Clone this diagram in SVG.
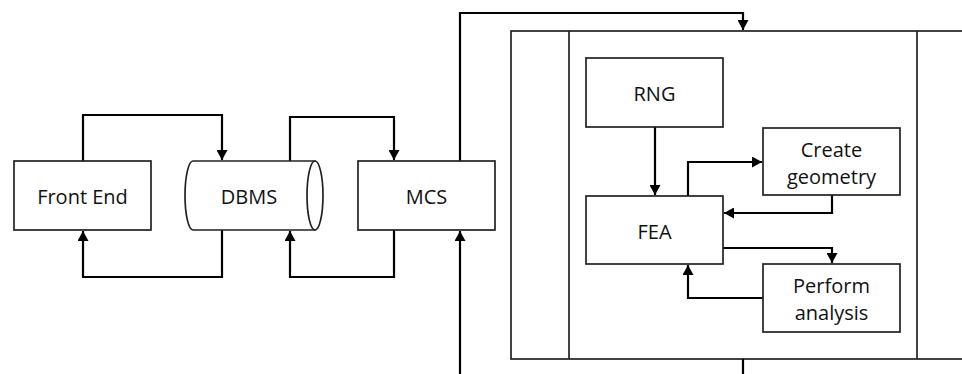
<svg xmlns="http://www.w3.org/2000/svg" width="962" height="374" viewBox="0 0 962 374">
  <style>
    .box { fill: #fff; stroke: #222; stroke-width: 1.7; }
    .frame { fill: none; stroke: #222; stroke-width: 1.7; }
    .wire { fill: none; stroke: #000; stroke-width: 2.2; }
    .lbl { font-family: "Open Sans", "Noto Sans", sans-serif; font-size: 20px; fill: #111; text-anchor: middle; dominant-baseline: central; }
  </style>
  <defs>
    <marker id="ah" viewBox="0 0 10 11" refX="10" refY="5.5" markerWidth="10" markerHeight="11" markerUnits="userSpaceOnUse" orient="auto">
      <path d="M0,0 L10,5.5 L0,11 z" fill="#000"/>
    </marker>
  </defs>

  <rect width="962" height="374" fill="#fff"/>

  <!-- outer process frame with its two divider columns -->
  <g id="frame">
    <rect class="frame" x="511" y="31" width="470" height="328"/>
    <line class="frame" x1="569" y1="31" x2="569" y2="359"/>
    <line class="frame" x1="917" y1="31" x2="917" y2="359"/>
  </g>

  <g id="connectors">
    <path class="wire" d="M83,161 V115 H222 V160" marker-end="url(#ah)"/>
    <path class="wire" d="M222,230 V277 H83 V231" marker-end="url(#ah)"/>
    <path class="wire" d="M290,161 V117 H394 V160" marker-end="url(#ah)"/>
    <path class="wire" d="M394,230 V277 H290 V231" marker-end="url(#ah)"/>
    <path class="wire" d="M460,161 V13 H743 V30" marker-end="url(#ah)"/>
    <path class="wire" d="M460,376 V231" marker-end="url(#ah)"/>
    <path class="wire" d="M743,359 V376"/>
    <path class="wire" d="M655,127 V195" marker-end="url(#ah)"/>
    <path class="wire" d="M688,196 V162 H762" marker-end="url(#ah)"/>
    <path class="wire" d="M832,195 V213 H724" marker-end="url(#ah)"/>
    <path class="wire" d="M723,248 H832 V263" marker-end="url(#ah)"/>
    <path class="wire" d="M763,298 H688 V265" marker-end="url(#ah)"/>
  </g>

  <g id="front-end">
    <rect class="box" x="14" y="161" width="137" height="69"/>
    <text class="lbl" x="82.5" y="196">Front End</text>
  </g>

  <g id="dbms">
    <path class="box" d="M193,161 H315 V230 H193 A8,34.5 0 0 1 193,161 z"/>
    <ellipse class="box" cx="315" cy="195.5" rx="8" ry="34.5"/>
    <text class="lbl" x="249" y="196">DBMS</text>
  </g>

  <g id="mcs">
    <rect class="box" x="358" y="161" width="137" height="69"/>
    <text class="lbl" x="426.5" y="196">MCS</text>
  </g>

  <g id="rng">
    <rect class="box" x="586" y="58" width="137" height="69"/>
    <text class="lbl" x="654.5" y="93">RNG</text>
  </g>

  <g id="fea">
    <rect class="box" x="586" y="196" width="137" height="68"/>
    <text class="lbl" x="654.5" y="231">FEA</text>
  </g>

  <g id="create-geometry">
    <rect class="box" x="763" y="128" width="137" height="67"/>
    <text class="lbl" x="831.5" y="149">Create</text>
    <text class="lbl" x="831.5" y="176">geometry</text>
  </g>

  <g id="perform-analysis">
    <rect class="box" x="763" y="264" width="137" height="68"/>
    <text class="lbl" x="831.5" y="285">Perform</text>
    <text class="lbl" x="831.5" y="312">analysis</text>
  </g>
</svg>
